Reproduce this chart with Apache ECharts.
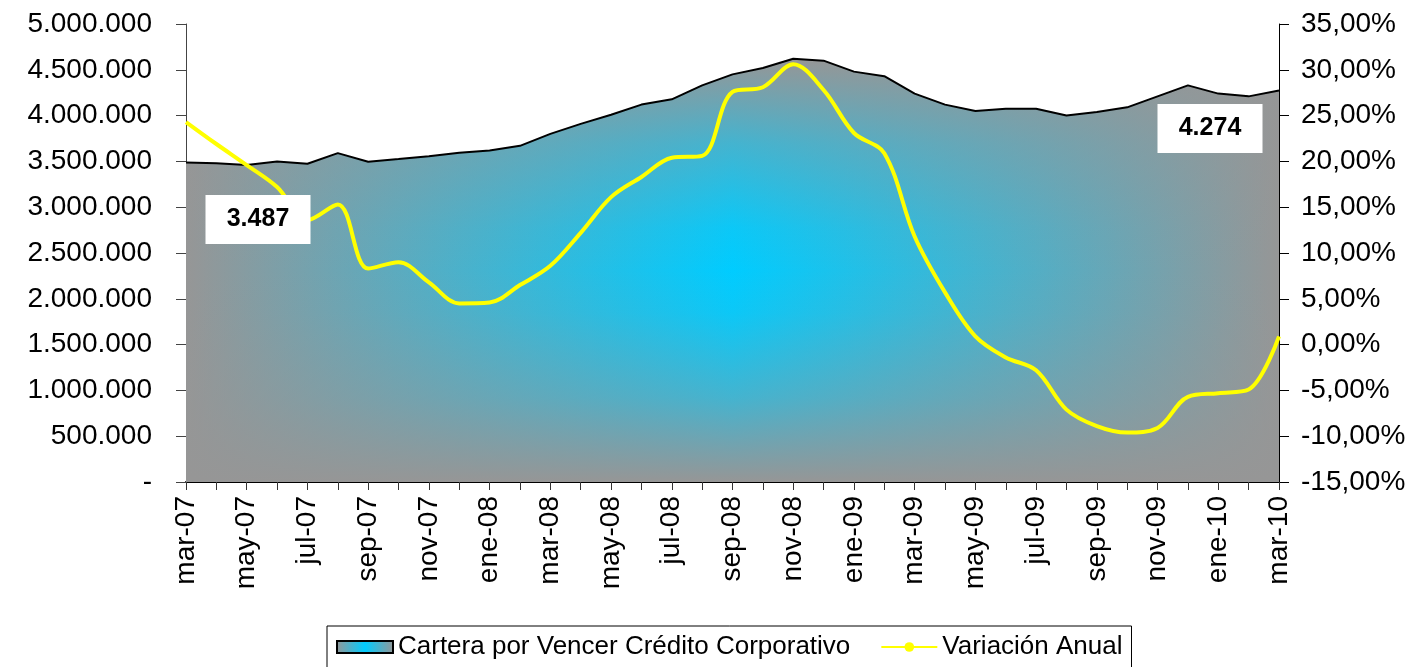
<!DOCTYPE html>
<html>
<head>
<meta charset="utf-8">
<script src="https://cdn.jsdelivr.net/npm/echarts@6/dist/echarts.min.js"></script>
<style>
  html, body { margin: 0; padding: 0; background: #fff; }
  #chart { width: 1423px; height: 667px; }
</style>
</head>
<body>
<div id="chart"></div>
<script>
// meses (eje de categorias)
var months = ['mar-07', 'abr-07', 'may-07', 'jun-07', 'jul-07', 'ago-07', 'sep-07', 'oct-07', 'nov-07', 'dic-07',
  'ene-08', 'feb-08', 'mar-08', 'abr-08', 'may-08', 'jun-08', 'jul-08', 'ago-08', 'sep-08', 'oct-08', 'nov-08', 'dic-08',
  'ene-09', 'feb-09', 'mar-09', 'abr-09', 'may-09', 'jun-09', 'jul-09', 'ago-09', 'sep-09', 'oct-09', 'nov-09', 'dic-09',
  'ene-10', 'feb-10', 'mar-10']

// cartera por vencer credito corporativo
var cartera = [3487000, 3480000, 3460000, 3500000, 3475000, 3590000, 3497000, 3525000, 3555000, 3595000,
  3620000, 3670000, 3800000, 3910000, 4010000, 4120000, 4178000, 4330000, 4450000, 4520000, 4620000, 4600000,
  4480000, 4430000, 4240000, 4120000, 4050000, 4075000, 4075000, 4000000, 4040000, 4090000, 4210000, 4330000,
  4240000, 4210000, 4274000]

// variacion anual (%)
var variacion = [24.3, 21.9, 19.6, 17.2, 13.6, 15.3, 8.3, 9.0, 6.8, 4.5,
  4.6, 6.5, 8.6, 12.2, 16.1, 18.3, 20.4, 20.6, 27.6, 28.1, 30.6, 27.8,
  23.1, 20.9, 11.8, 5.7, 0.9, -1.4, -2.8, -7.1, -8.9, -9.6, -9.1, -5.7,
  -5.3, -4.9, 0.9]

var FONT = '"Liberation Sans", Arial, sans-serif'
var GRAY = '#969696'
var CYAN = '#00CCFF'

function miles(v) {
  return String(Math.round(v)).replace(/\B(?=(\d{3})+(?!\d))/g, '.')
}

var chart = echarts.init(document.getElementById('chart'))

var horizGrad = new echarts.graphic.LinearGradient(0, 0, 1, 0, [
  { offset: 0, color: GRAY },
  { offset: 0.5, color: CYAN },
  { offset: 1, color: GRAY }
])
// capa gris semitransparente: oscurece arriba y abajo
var vertGrad = new echarts.graphic.LinearGradient(0, 0, 0, 1, [
  { offset: 0, color: 'rgba(150,150,150,1)' },
  { offset: 0.2, color: 'rgba(150,150,150,0.45)' },
  { offset: 0.4, color: 'rgba(150,150,150,0.08)' },
  { offset: 0.5, color: 'rgba(150,150,150,0)' },
  { offset: 0.6, color: 'rgba(150,150,150,0.08)' },
  { offset: 0.8, color: 'rgba(150,150,150,0.45)' },
  { offset: 1, color: 'rgba(150,150,150,1)' }
])

var last = months.length - 1

chart.setOption({
  animation: false,
  textStyle: { fontFamily: FONT },
  grid: { left: 186, right: 144, top: 24, bottom: 185 },
  legend: {
    left: 327,
    top: 626,
    padding: [8, 9, 12, 9],
    borderColor: '#000',
    borderWidth: 1,
    itemWidth: 56,
    itemHeight: 12,
    itemGap: 30,
    textStyle: { fontSize: 26, color: '#000', fontFamily: FONT },
    data: [
      {
        name: 'Cartera por Vencer Crédito Corporativo',
        icon: 'rect',
        itemStyle: {
          color: new echarts.graphic.LinearGradient(0, 0, 1, 0, [
            { offset: 0, color: GRAY },
            { offset: 0.5, color: CYAN },
            { offset: 1, color: GRAY }
          ]),
          borderColor: '#000',
          borderWidth: 2
        }
      },
      { name: 'Variación Anual' }
    ]
  },
  xAxis: {
    type: 'category',
    data: months,
    boundaryGap: false,
    axisLine: { lineStyle: { color: '#000', width: 2 } },
    axisTick: { interval: 0, length: 8, lineStyle: { color: '#333' } },
    axisLabel: {
      interval: 1,
      rotate: 90,
      margin: 14,
      fontSize: 28,
      color: '#000',
      fontFamily: FONT
    }
  },
  yAxis: [
    {
      type: 'value',
      min: 0,
      max: 5000000,
      interval: 500000,
      splitLine: { show: false },
      axisLine: { show: true, lineStyle: { color: '#444' } },
      axisTick: { show: true, length: 10, lineStyle: { color: '#444' } },
      axisLabel: {
        margin: 34,
        fontSize: 28,
        color: '#000',
        fontFamily: FONT,
        formatter: function (v) { return v === 0 ? '-' : miles(v) }
      }
    },
    {
      type: 'value',
      min: -15,
      max: 35,
      interval: 5,
      splitLine: { show: false },
      axisLine: { show: true, lineStyle: { color: '#000' } },
      axisTick: { show: true, length: 10, lineStyle: { color: '#000' } },
      axisLabel: {
        margin: 22,
        fontSize: 28,
        color: '#000',
        fontFamily: FONT,
        formatter: function (v) { return v.toFixed(2).replace('.', ',') + '%' }
      }
    }
  ],
  series: [
    {
      name: 'Cartera por Vencer Crédito Corporativo',
      type: 'line',
      yAxisIndex: 0,
      data: cartera,
      showSymbol: false,
      lineStyle: { width: 0 },
      itemStyle: { color: CYAN },
      areaStyle: { color: horizGrad, opacity: 1 }
    },
    {
      name: 'fondo',
      type: 'line',
      yAxisIndex: 0,
      data: cartera,
      showSymbol: false,
      lineStyle: { color: '#000', width: 2 },
      itemStyle: { color: '#000' },
      areaStyle: { color: vertGrad, opacity: 1 },
      markPoint: {
        symbol: 'rect',
        symbolSize: [105, 49],
        itemStyle: { color: '#fff' },
        label: {
          show: true,
          position: 'inside',
          color: '#000',
          fontSize: 25,
          fontWeight: 'bold',
          fontFamily: FONT,
          formatter: function (p) { return miles(p.value / 1000) }
        },
        data: [
          { coord: [months[0], cartera[0]], value: cartera[0], symbolOffset: [72, 57] },
          { coord: [months[last], cartera[last]], value: cartera[last], symbolOffset: [-69, 38] }
        ]
      }
    },
    {
      name: 'Variación Anual',
      type: 'line',
      yAxisIndex: 1,
      data: variacion,
      smooth: 0.35,
      symbol: 'circle',
      symbolSize: 3,
      showSymbol: false,
      lineStyle: { color: '#FFFF00', width: 4 },
      itemStyle: { color: '#FFFF00' }
    }
  ]
})
</script>
</body>
</html>
